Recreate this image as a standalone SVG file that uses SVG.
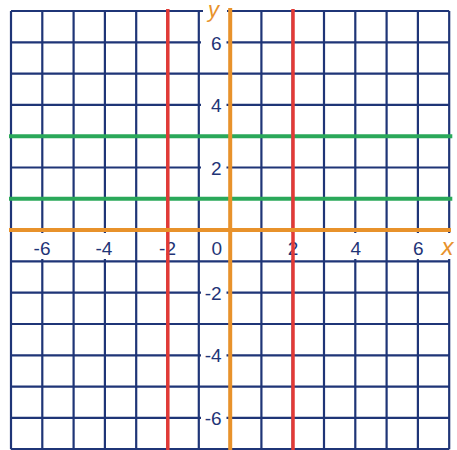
<svg xmlns="http://www.w3.org/2000/svg" width="457" height="450" viewBox="0 0 457 450">
  <style>
    .grid { stroke: #1f3577; stroke-width: 2.2; fill: none; }
    .lbl { font-family: "Liberation Sans", Arial, sans-serif; font-size: 19px; fill: #1f3577; }
    .ax { font-family: "Liberation Sans", Arial, sans-serif; font-size: 24px; font-style: italic; fill: #e8922b; }
    .box { fill: #ffffff; }
    .green { stroke: #2aa85a; stroke-width: 4; }
    .red { stroke: #e23a36; stroke-width: 3.5; }
    .axis { stroke: #e8922b; stroke-width: 4; }
  </style>
  <rect width="457" height="450" fill="#ffffff"/>
  <g id="grid">
    <path class="grid" d="M11 11V449.2 M42.3 11V449.2 M73.6 11V449.2 M104.9 11V449.2 M136.2 11V449.2 M167.5 11V449.2 M198.8 11V449.2 M230.1 11V449.2 M261.4 11V449.2 M292.7 11V449.2 M324 11V449.2 M355.3 11V449.2 M386.6 11V449.2 M417.9 11V449.2 M449.2 11V449.2 M11 11H449.2 M11 42.3H449.2 M11 73.6H449.2 M11 104.9H449.2 M11 136.2H449.2 M11 167.5H449.2 M11 198.8H449.2 M11 230.1H449.2 M11 261.4H449.2 M11 292.7H449.2 M11 324H449.2 M11 355.3H449.2 M11 386.6H449.2 M11 417.9H449.2 M11 449.2H449.2"/>
  </g>
  <g id="label-boxes">
    <rect class="box" x="28" y="233" width="24" height="26"/>
    <rect class="box" x="91" y="233" width="23" height="26"/>
    <rect class="box" x="155" y="233" width="23" height="26"/>
    <rect class="box" x="209" y="233" width="15" height="26"/>
    <rect class="box" x="285" y="233" width="16" height="26"/>
    <rect class="box" x="347" y="233" width="17" height="26"/>
    <rect class="box" x="409" y="233" width="18" height="26"/>
    <rect class="box" x="440" y="233" width="17" height="26"/>
    <rect class="box" x="201" y="32.3" width="25.5" height="20"/>
    <rect class="box" x="201" y="94.9" width="25.5" height="20"/>
    <rect class="box" x="201" y="157.5" width="25.5" height="20"/>
    <rect class="box" x="201" y="282.7" width="25.5" height="20"/>
    <rect class="box" x="201" y="345.3" width="25.5" height="20"/>
    <rect class="box" x="201" y="407.9" width="25.5" height="20"/>
    <rect class="box" x="203" y="0" width="24" height="22"/>
  </g>
  <g id="x-labels">
    <text class="lbl" x="50.5" y="255" text-anchor="end">-6</text>
    <text class="lbl" x="112.4" y="255" text-anchor="end">-4</text>
    <text class="lbl" x="176" y="255" text-anchor="end">-2</text>
    <text class="lbl" x="216.7" y="255" text-anchor="middle">0</text>
    <text class="lbl" x="293" y="255" text-anchor="middle">2</text>
    <text class="lbl" x="355.8" y="255" text-anchor="middle">4</text>
    <text class="lbl" x="418.2" y="255" text-anchor="middle">6</text>
  </g>
  <g id="y-labels">
    <text class="lbl" x="221.7" y="49.8" text-anchor="end">6</text>
    <text class="lbl" x="221.7" y="112.4" text-anchor="end">4</text>
    <text class="lbl" x="221.7" y="175" text-anchor="end">2</text>
    <text class="lbl" x="221.7" y="300" text-anchor="end">-2</text>
    <text class="lbl" x="221.7" y="362.3" text-anchor="end">-4</text>
    <text class="lbl" x="221.7" y="425" text-anchor="end">-6</text>
  </g>
  <g id="green-lines">
    <line class="green" x1="9" y1="136.2" x2="452.3" y2="136.2"/>
    <line class="green" x1="9" y1="198.8" x2="452.3" y2="198.8"/>
  </g>
  <g id="red-lines">
    <line class="red" x1="167.8" y1="9" x2="167.8" y2="450"/>
    <line class="red" x1="293" y1="9" x2="293" y2="450"/>
  </g>
  <g id="axes">
    <line class="axis" x1="9" y1="230.1" x2="451" y2="230.1"/>
    <line class="axis" x1="230.2" y1="8" x2="230.2" y2="450"/>
    <text class="ax" x="447.5" y="255" text-anchor="middle">x</text>
    <text class="ax" x="213.5" y="16.5" text-anchor="middle" style="font-size:22px">y</text>
  </g>
</svg>
